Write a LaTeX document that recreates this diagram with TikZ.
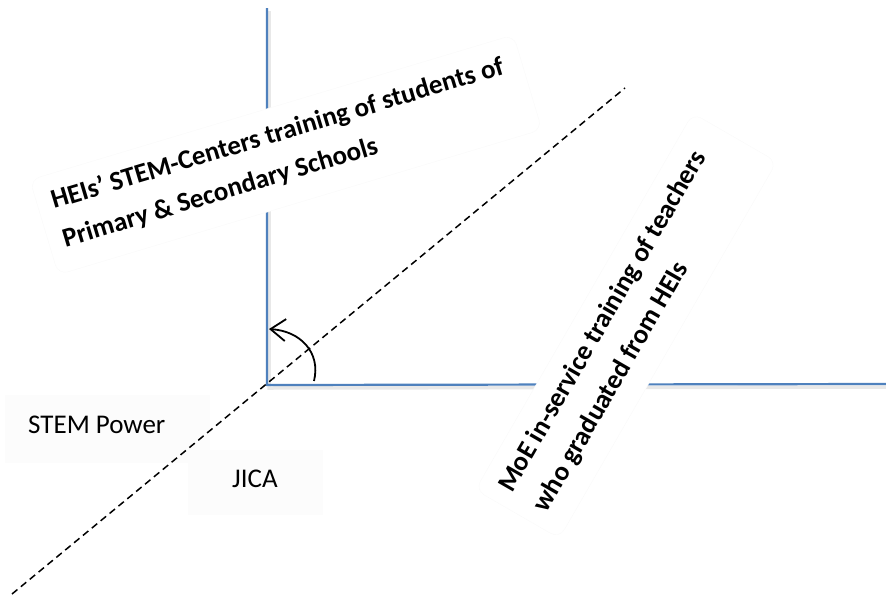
\documentclass[tikz,border=0pt]{standalone}
\usepackage{fontspec}
\setmainfont{Carlito}
\usetikzlibrary{arrows.meta}
\definecolor{axisblue}{RGB}{79,129,189}
\begin{document}
\begin{tikzpicture}[x=1pt,y=-1pt,
  axis/.style={draw=axisblue, line width=2.2pt, line join=miter},
  axisshadow/.style={draw=black!9, line width=3.5pt},
  panel/.style={fill=white, draw=black!2, rounded corners=10pt, inner sep=0pt},
  faintbox/.style={fill=black!1.2},
  boldlabel/.style={font=\fontsize{27}{40}\selectfont\bfseries, inner sep=0pt, align=left, anchor=base west},
  plainlabel/.style={font=\fontsize{27}{32}\selectfont, inner sep=0pt, anchor=base west},
  guide/.style={dash pattern=on 7pt off 4.5pt, line width=1.5pt},
  turn/.style={line width=1.8pt, -{Straight Barb[length=15pt,width=22pt]}}
]
\useasboundingbox (0,0) rectangle (886,600);

% axes with their soft shadow
\coordinate (top) at (267,8);
\coordinate (corner) at (267,385);
\coordinate (right) at (886,384);
\draw[axisshadow] ([shift={(2,3)}]top) -- ([shift={(2,3)}]corner) -- ([shift={(2,3)}]right);
\draw[axis] (top) -- (corner) -- (right);

% faint label boxes
\fill[faintbox] (5,395) rectangle (210,463);
\fill[faintbox] (188,450) rectangle (323,515);

% HEIs label, tilted; the node's base is its second line
\begin{scope}[shift={(54,209)}, rotate=16.7, transform shape]
  \node[panel, minimum width=505pt, minimum height=99pt, anchor=north west] (heisbox) at (-15,-35) {};
  \node[boldlabel] (heis) at (0,40) {HEIs’ STEM-Centers training of students of\\Primary \& Secondary Schools};
\end{scope}

% MoE label, steep
\begin{scope}[shift={(512,494)}, rotate=60, transform shape]
  \node[panel, minimum width=435pt, minimum height=97pt, anchor=north west] (moebox) at (-15,-34) {};
  \node[boldlabel] (moe) at (0,40) {MoE in-service training of teachers\\who graduated from HEIs};
\end{scope}

% dashed diagonal
\coordinate (dlow) at (12,594);
\coordinate (dhigh) at (625,88);
\draw[guide] (dlow) -- (dhigh);

% curved arrow at the corner
\coordinate (arcS) at (314,381);
\coordinate (arcE) at (269,329);
\draw[turn] (arcS) .. controls (321,352) and (300,331) .. (arcE);

% plain labels
\node[plainlabel] (stem) at (28,433) {STEM Power};
\node[plainlabel] (jica) at (232,487) {JICA};
\end{tikzpicture}
\end{document}
